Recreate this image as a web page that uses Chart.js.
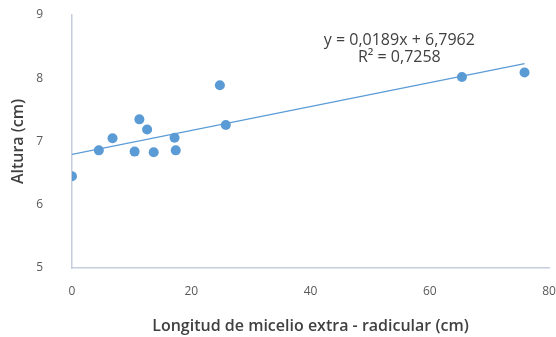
<!DOCTYPE html>
<html>
<head>
<meta charset="utf-8">
<script src="https://cdn.jsdelivr.net/npm/chart.js@4"></script>
<style>
  html, body { margin: 0; padding: 0; background: #fff; }
  #wrap { width: 556px; height: 337px; }
</style>
</head>
<body>
<div id="wrap"><canvas id="chart" width="556" height="337"></canvas></div>
<script>
// datos
const micelio = [0, 4.5, 6.8, 10.5, 11.3, 12.6, 13.7, 17.2, 17.4, 24.8, 25.8, 65.4, 75.9];
const altura  = [6.45, 6.86, 7.05, 6.84, 7.35, 7.19, 6.83, 7.06, 6.86, 7.89, 7.26, 8.02, 8.09];

// línea de tendencia (ecuación del gráfico)
const pendiente = 0.0189;
const intercepto = 6.7962;
const ecuacion = ['y = 0,0189x + 6,7962', 'R² = 0,7258'];

const xTicks = [0, 20, 40, 60, 80];
const yTicks = [5, 6, 7, 8, 9];

const azul = '#5b9bd5';
const ejeColor = '#c4cedd';

const puntos = micelio.map((x, i) => ({ x: x, y: altura[i] }));
const xMin = Math.min(...micelio);
const xMax = Math.max(...micelio);
const tendencia = [xMin, xMax].map(x => ({ x: x, y: pendiente * x + intercepto }));

// dibuja la ecuación de la tendencia
const etiquetaEcuacion = {
    id: 'etiquetaEcuacion',
    afterDatasetsDraw(chart) {
        const { ctx, scales } = chart;
        const cx = scales.x.getPixelForValue(54.9);
        ctx.save();
        ctx.font = '16px "Open Sans"';
        ctx.fillStyle = '#404040';
        ctx.textAlign = 'center';
        ctx.textBaseline = 'middle';
        ctx.fillText(ecuacion[0], cx, scales.y.getPixelForValue(8.6));
        ctx.fillText(ecuacion[1], cx, scales.y.getPixelForValue(8.33));
        ctx.restore();
    }
};

new Chart(document.getElementById('chart'), {
    type: 'scatter',
    data: {
        datasets: [{
            label: 'Altura',
            data: puntos,
            backgroundColor: azul,
            borderColor: azul,
            pointRadius: 5,
            pointBorderWidth: 0,
            order: 1
        }, {
            label: 'Tendencia',
            type: 'line',
            data: tendencia,
            borderColor: azul,
            borderWidth: 1.2,
            pointRadius: 0,
            fill: false,
            order: 2
        }]
    },
    options: {
        responsive: false,
        animation: false,
        layout: { padding: { top: 0, right: 7, bottom: 0, left: 0 } },
        plugins: {
            legend: { display: false },
            tooltip: { enabled: false }
        },
        scales: {
            x: {
                type: 'linear',
                min: 0,
                max: 80,
                afterBuildTicks: s => { s.ticks = xTicks.map(v => ({ value: v })); },
                afterFit: s => { s.height = 69; s.paddingRight = 0; s.paddingLeft = 0; },
                grid: { display: false },
                border: { display: true, color: ejeColor, width: 1.5 },
                ticks: {
                    padding: 8,
                    color: '#595959',
                    font: { family: '"Open Sans"', size: 12 }
                },
                title: {
                    display: true,
                    text: 'Longitud de micelio extra - radicular (cm)',
                    color: '#404040',
                    font: { family: '"Open Sans"', size: 16, weight: '600' },
                    padding: { top: 0, bottom: 1 }
                }
            },
            y: {
                type: 'linear',
                min: 5,
                max: 9,
                afterBuildTicks: s => { s.ticks = yTicks.map(v => ({ value: v })); },
                afterFit: s => { s.width = 72; s.paddingTop = 15; s.paddingBottom = 0; },
                grid: { display: false },
                border: { display: true, color: ejeColor, width: 1.5 },
                ticks: {
                    padding: 21,
                    color: '#595959',
                    font: { family: '"Open Sans"', size: 12 }
                },
                title: {
                    display: true,
                    text: 'Altura (cm)',
                    color: '#404040',
                    font: { family: '"Open Sans"', size: 16, weight: '600' },
                    padding: { top: 9, bottom: 0 }
                }
            }
        }
    },
    plugins: [etiquetaEcuacion]
});
</script>
</body>
</html>
